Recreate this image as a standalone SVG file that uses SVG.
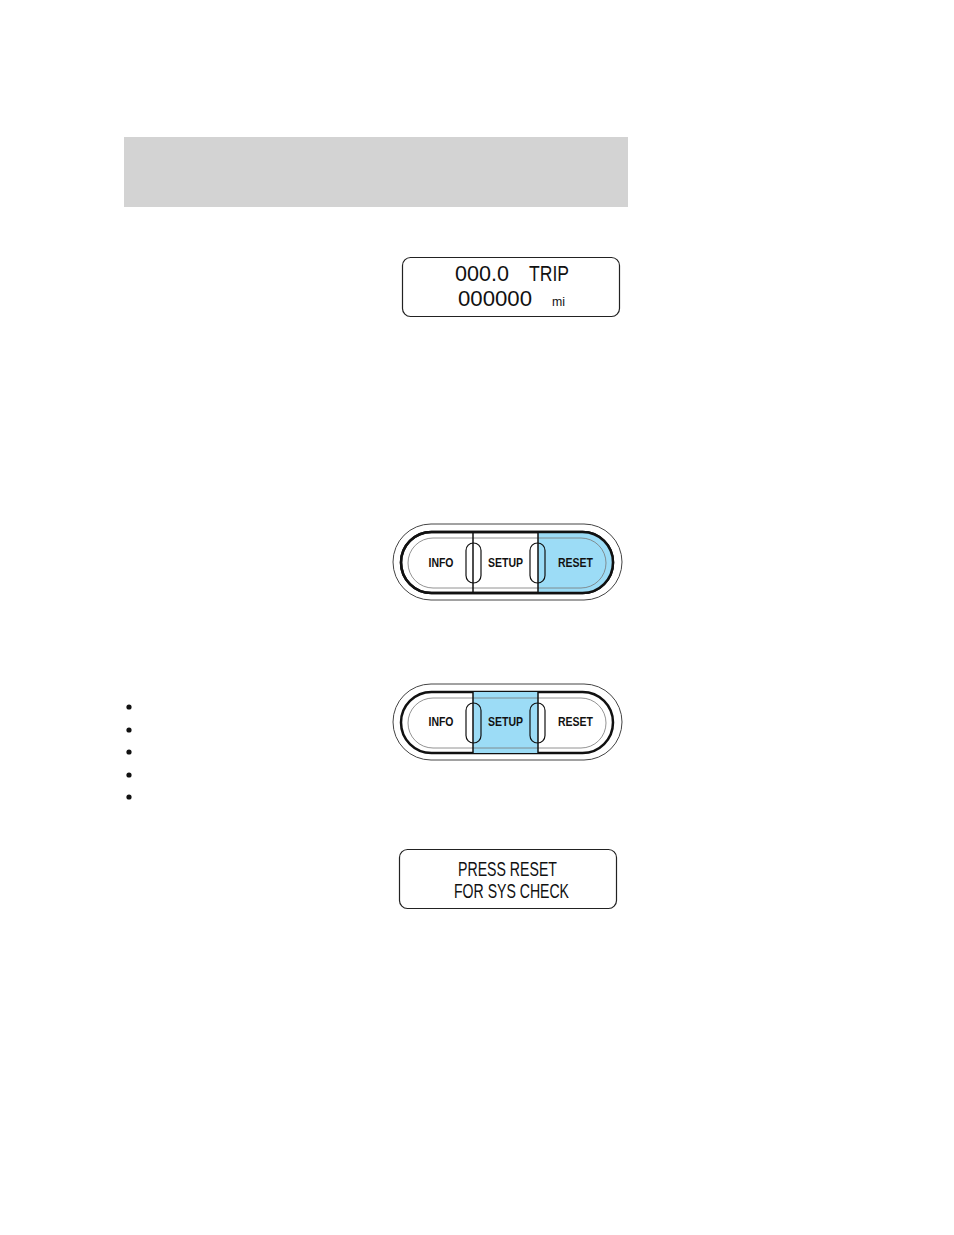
<svg xmlns="http://www.w3.org/2000/svg" width="954" height="1235" viewBox="0 0 954 1235">
<style>
.lcd{fill:none;stroke:#222;stroke-width:1.2}
.seg{font-family:"Liberation Sans Narrow","Liberation Sans",Arial,sans-serif;fill:#111;font-weight:normal}
.outer{fill:#fff;stroke:#444;stroke-width:1}
.thick{fill:#fff;stroke:#111;stroke-width:2.5}
.inner{fill:none;stroke:#777;stroke-width:0.8}
.div{stroke:#111;stroke-width:1.5}
.oval{fill:none;stroke:#111;stroke-width:1.2}
.lbl{font-family:"Liberation Sans",Arial,sans-serif;font-weight:bold;font-size:12px;fill:#111;text-anchor:middle}
.blue{fill:#9CDCF6}
</style>
<defs>
<clipPath id="pill1"><rect x="401" y="532" width="212" height="61" rx="30.5"/></clipPath>
</defs>
<rect width="954" height="1235" fill="#fff"/>
<rect id="header" x="124" y="137" width="504" height="70" fill="#d3d3d3"/>

<g id="display1">
<rect class="lcd" x="402.5" y="257.5" width="217" height="59" rx="8"/>
<text class="seg" x="455" y="281" font-size="22" textLength="54" lengthAdjust="spacingAndGlyphs">000.0</text>
<text class="seg" x="529" y="281" font-size="22" textLength="40" lengthAdjust="spacingAndGlyphs">TRIP</text>
<text class="seg" x="458" y="306" font-size="22" textLength="74" lengthAdjust="spacingAndGlyphs">000000</text>
<text class="seg" x="552" y="306" font-size="13" textLength="13" lengthAdjust="spacingAndGlyphs">mi</text>
</g>

<g id="buttons1">
<rect class="outer" x="393" y="524" width="229" height="76" rx="38"/>
<rect class="thick" x="401" y="532" width="212" height="61" rx="30.5"/>
<rect class="blue" x="538" y="532" width="80" height="61" clip-path="url(#pill1)"/>
<rect x="401" y="532" width="212" height="61" rx="30.5" fill="none" stroke="#111" stroke-width="2.5"/>
<rect class="inner" x="408" y="538" width="198" height="50" rx="25"/>
<line class="div" x1="473" y1="532" x2="473" y2="593"/>
<line class="div" x1="538" y1="532" x2="538" y2="593"/>
<rect class="oval" x="466" y="543" width="15" height="40" rx="7.5"/>
<rect class="oval" x="530" y="543" width="15" height="40" rx="7.5"/>
<text class="lbl" x="441" y="567" textLength="25" lengthAdjust="spacingAndGlyphs">INFO</text>
<text class="lbl" x="505.5" y="567" textLength="35" lengthAdjust="spacingAndGlyphs">SETUP</text>
<text class="lbl" x="575.5" y="567" textLength="35" lengthAdjust="spacingAndGlyphs">RESET</text>
</g>

<g id="buttons2">
<rect class="outer" x="393" y="684" width="229" height="76" rx="38"/>
<rect class="thick" x="401" y="692" width="212" height="61" rx="30.5"/>
<rect class="blue" x="473" y="692" width="65" height="61"/>
<rect class="inner" x="408" y="698" width="198" height="50" rx="25"/>
<line class="div" x1="473" y1="692" x2="473" y2="753"/>
<line class="div" x1="538" y1="692" x2="538" y2="753"/>
<rect class="oval" x="466" y="703" width="15" height="40" rx="7.5"/>
<rect class="oval" x="530" y="703" width="15" height="40" rx="7.5"/>
<text class="lbl" x="441" y="726" textLength="25" lengthAdjust="spacingAndGlyphs">INFO</text>
<text class="lbl" x="505.5" y="726" textLength="35" lengthAdjust="spacingAndGlyphs">SETUP</text>
<text class="lbl" x="575.5" y="726" textLength="35" lengthAdjust="spacingAndGlyphs">RESET</text>
</g>

<g id="bullets" fill="#111">
<circle cx="129" cy="707" r="2.6"/>
<circle cx="129" cy="730" r="2.6"/>
<circle cx="129" cy="752" r="2.6"/>
<circle cx="129" cy="775" r="2.6"/>
<circle cx="129" cy="797" r="2.6"/>
</g>

<g id="display2">
<rect class="lcd" x="399.5" y="849.5" width="217" height="59" rx="8"/>
<text class="seg" x="458" y="876" font-size="21" textLength="99" lengthAdjust="spacingAndGlyphs">PRESS RESET</text>
<text class="seg" x="454" y="898" font-size="21" textLength="115" lengthAdjust="spacingAndGlyphs">FOR SYS CHECK</text>
</g>
</svg>
